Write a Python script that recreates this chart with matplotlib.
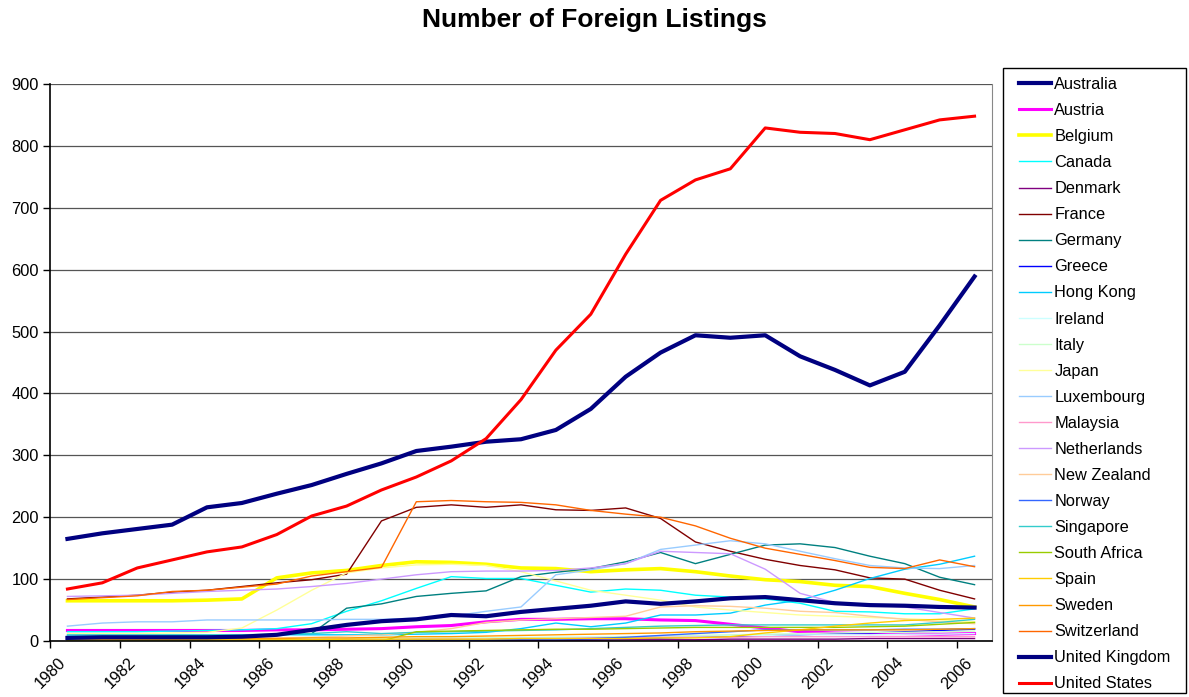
import numpy as np
import matplotlib.pyplot as plt
from matplotlib.patches import Rectangle
from matplotlib.transforms import ScaledTranslation

plt.rcParams['font.family'] = ['Liberation Sans', 'DejaVu Sans']

years = np.arange(1980, 2007)

countries = ['Australia', 'Austria', 'Belgium', 'Canada', 'Denmark', 'France', 'Germany',
             'Greece', 'Hong Kong', 'Ireland', 'Italy', 'Japan', 'Luxembourg', 'Malaysia',
             'Netherlands', 'New Zealand', 'Norway', 'Singapore', 'South Africa', 'Spain',
             'Sweden', 'Switzerland', 'United Kingdom', 'United States']

australia = [165, 174, 181, 188, 216, 223, 238, 252, 270, 287, 307, 314, 322, 326, 341, 375, 427,
             466, 494, 490, 494, 460, 438, 413, 435, 510, 589]
austria = [17, 17, 17, 17, 17, 17, 18, 18, 19, 20, 23, 25, 31, 35, 35, 36, 36, 34, 33, 27, 21,
           15, 13, 12, 12, 11, 12]
belgium = [65, 65, 65, 65, 66, 68, 102, 110, 114, 122, 128, 127, 124, 118, 117, 112, 115, 117,
           112, 105, 99, 96, 90, 88, 77, 67, 55]
canada = [15, 15, 15, 16, 17, 18, 20, 28, 48, 65, 85, 104, 101, 101, 90, 79, 84, 82, 74, 71, 68,
          61, 48, 47, 44, 44, 52]
denmark = [1, 1, 1, 1, 1, 1, 1, 1, 1, 1, 1, 1, 1, 1, 1, 1, 2, 2, 2, 3, 3, 3, 3, 4, 4, 4, 4]
france = [68, 71, 74, 79, 82, 88, 94, 99, 108, 194, 216, 220, 216, 220, 212, 211, 215, 198, 160,
          145, 132, 122, 115, 102, 100, 82, 68]
germany = [7, 7, 7, 7, 7, 8, 10, 12, 53, 60, 72, 77, 81, 104, 111, 117, 128, 143, 125, 140, 155,
           157, 151, 137, 125, 103, 91]
greece = [0, 0, 0, 0, 0, 0, 0, 0, 0, 0, 1, 1, 1, 2, 2, 3, 4, 5, 6, 7, 9, 10, 12, 13, 15, 17, 19]
hong_kong = [8, 8, 8, 9, 9, 9, 10, 10, 10, 10, 11, 12, 14, 20, 29, 23, 29, 42, 42, 45, 58, 66,
             82, 101, 116, 124, 137]
ireland = [3, 3, 3, 3, 3, 3, 3, 4, 4, 4, 5, 5, 5, 6, 6, 7, 7, 8, 8, 9, 9, 10, 10, 10, 11, 11, 12]
italy = [2, 2, 2, 2, 2, 2, 3, 3, 3, 3, 4, 4, 5, 5, 6, 6, 7, 8, 9, 10, 11, 12, 13, 14, 14, 15, 16]
japan = [12, 12, 12, 13, 14, 21, 50, 82, 110, 118, 123, 124, 122, 112, 97, 82, 74, 66, 55, 50,
         46, 42, 40, 38, 36, 34, 31]
luxembourg = [24, 29, 31, 31, 34, 34, 34, 34, 35, 35, 37, 40, 48, 55, 107, 115, 125, 148, 155,
              162, 157, 145, 133, 122, 118, 117, 122]
malaysia = [1, 1, 1, 1, 1, 1, 1, 2, 2, 2, 3, 3, 3, 4, 4, 5, 5, 6, 6, 6, 7, 7, 7, 7, 7, 7, 7]
netherlands = [72, 73, 74, 77, 80, 82, 84, 88, 93, 100, 107, 112, 113, 113, 114, 118, 125, 145,
               143, 141, 116, 77, 62, 58, 55, 46, 37]
new_zealand = [3, 3, 3, 3, 4, 4, 5, 6, 8, 10, 14, 20, 30, 34, 36, 38, 40, 55, 57, 56, 53, 48,
               46, 40, 35, 31, 28]
norway = [1, 1, 1, 1, 1, 1, 1, 1, 1, 1, 2, 2, 2, 3, 3, 4, 6, 9, 12, 15, 18, 18, 18, 18, 19, 19,
          20]
singapore = [10, 10, 10, 10, 10, 10, 11, 12, 15, 12, 14, 15, 16, 17, 18, 20, 22, 24, 25, 26, 26,
             26, 26, 26, 26, 30, 35]
south_africa = [0, 0, 0, 0, 0, 0, 0, 0, 0, 0, 15, 16, 17, 18, 19, 19, 20, 21, 22, 22, 22, 22,
                22, 23, 24, 27, 30]
spain = [2, 2, 2, 2, 2, 2, 2, 2, 3, 3, 3, 3, 3, 4, 4, 4, 4, 5, 5, 7, 13, 18, 24, 29, 33, 35, 37]
sweden = [3, 3, 3, 3, 4, 4, 4, 5, 5, 6, 7, 7, 8, 9, 10, 11, 12, 13, 15, 16, 17, 18, 18, 18, 18,
          19, 20]
switzerland = [67, 70, 73, 80, 82, 87, 92, 105, 112, 119, 225, 227, 225, 224, 220, 211, 205, 200,
               186, 166, 150, 140, 130, 119, 117, 131, 120]
united_kingdom = [5, 6, 6, 6, 6, 7, 10, 18, 26, 32, 35, 42, 40, 47, 52, 57, 64, 60, 64, 69, 71,
                  66, 61, 58, 57, 55, 54]
united_states = [84, 94, 118, 131, 144, 152, 172, 202, 218, 244, 265, 291, 327, 390, 470, 528,
                 625, 712, 745, 763, 829, 822, 820, 810, 826, 842, 848]

series = [australia, austria, belgium, canada, denmark, france, germany, greece, hong_kong,
          ireland, italy, japan, luxembourg, malaysia, netherlands, new_zealand, norway,
          singapore, south_africa, spain, sweden, switzerland, united_kingdom, united_states]

colors = ['#000080', '#FF00FF', '#FFFF00', '#00FFFF', '#800080', '#800000', '#008080',
          '#0000FF', '#00CCFF', '#CCFFFF', '#CCFFCC', '#FFFF99', '#99CCFF', '#FF99CC',
          '#CC99FF', '#FFCC99', '#3366FF', '#33CCCC', '#99CC00', '#FFCC00', '#FF9900',
          '#FF6600', '#000080', '#FF0000']
widths = {'Australia': 3.0, 'United Kingdom': 3.0, 'United States': 2.2, 'Belgium': 2.6,
          'Austria': 2.2}

W, H = 1189, 697
fig = plt.figure(figsize=(W / 100, H / 100), dpi=100)
ax = fig.add_axes([50 / W, 56 / H, 942 / W, 557 / H])

# points sit in the middle of each year category, like Excel's category axis
for name, vals, c in zip(countries, series, colors):
    ax.plot(years + 0.5, vals, color=c, lw=widths.get(name, 1.0), label=name,
            solid_joinstyle='round')

ax.set_xlim(1980, 2007)
ax.set_ylim(0, 900)
ax.set_yticks(np.arange(0, 901, 100))
ax.set_xticks(np.arange(1980, 2007, 2))
ax.set_xticklabels([str(y) for y in range(1980, 2007, 2)], rotation=45, ha='right',
                   rotation_mode='anchor')
ax.tick_params(axis='both', labelsize=11.8, length=5, width=1, direction='out', pad=3)
shift = ScaledTranslation(8 / 100, -3 / 100, fig.dpi_scale_trans)
for lbl in ax.get_xticklabels():
    lbl.set_transform(lbl.get_transform() + shift)
ax.grid(axis='y', color='#555555', lw=0.9)
ax.set_axisbelow(True)
ax.spines['top'].set_visible(False)
ax.spines['right'].set_color('#888888')
for s in ['left', 'bottom']:
    ax.spines[s].set_linewidth(1.2)

fig.suptitle('Number of Foreign Listings', fontsize=19, fontweight='bold', y=0.988)

# legend box drawn separately so the inner padding can match
fig.patches.append(Rectangle((1003 / W, 4 / H), 183 / W, 625 / H, transform=fig.transFigure,
                             facecolor='white', edgecolor='black', lw=1.0, zorder=0))
leg = fig.legend(loc='upper left', bbox_to_anchor=(1019 / W, 1 - 77 / H),
                 fontsize=11.8, frameon=False, handlelength=1.95, handletextpad=0.2,
                 labelspacing=0.675, borderpad=0, borderaxespad=0)

plt.savefig('out.png', dpi=100)
